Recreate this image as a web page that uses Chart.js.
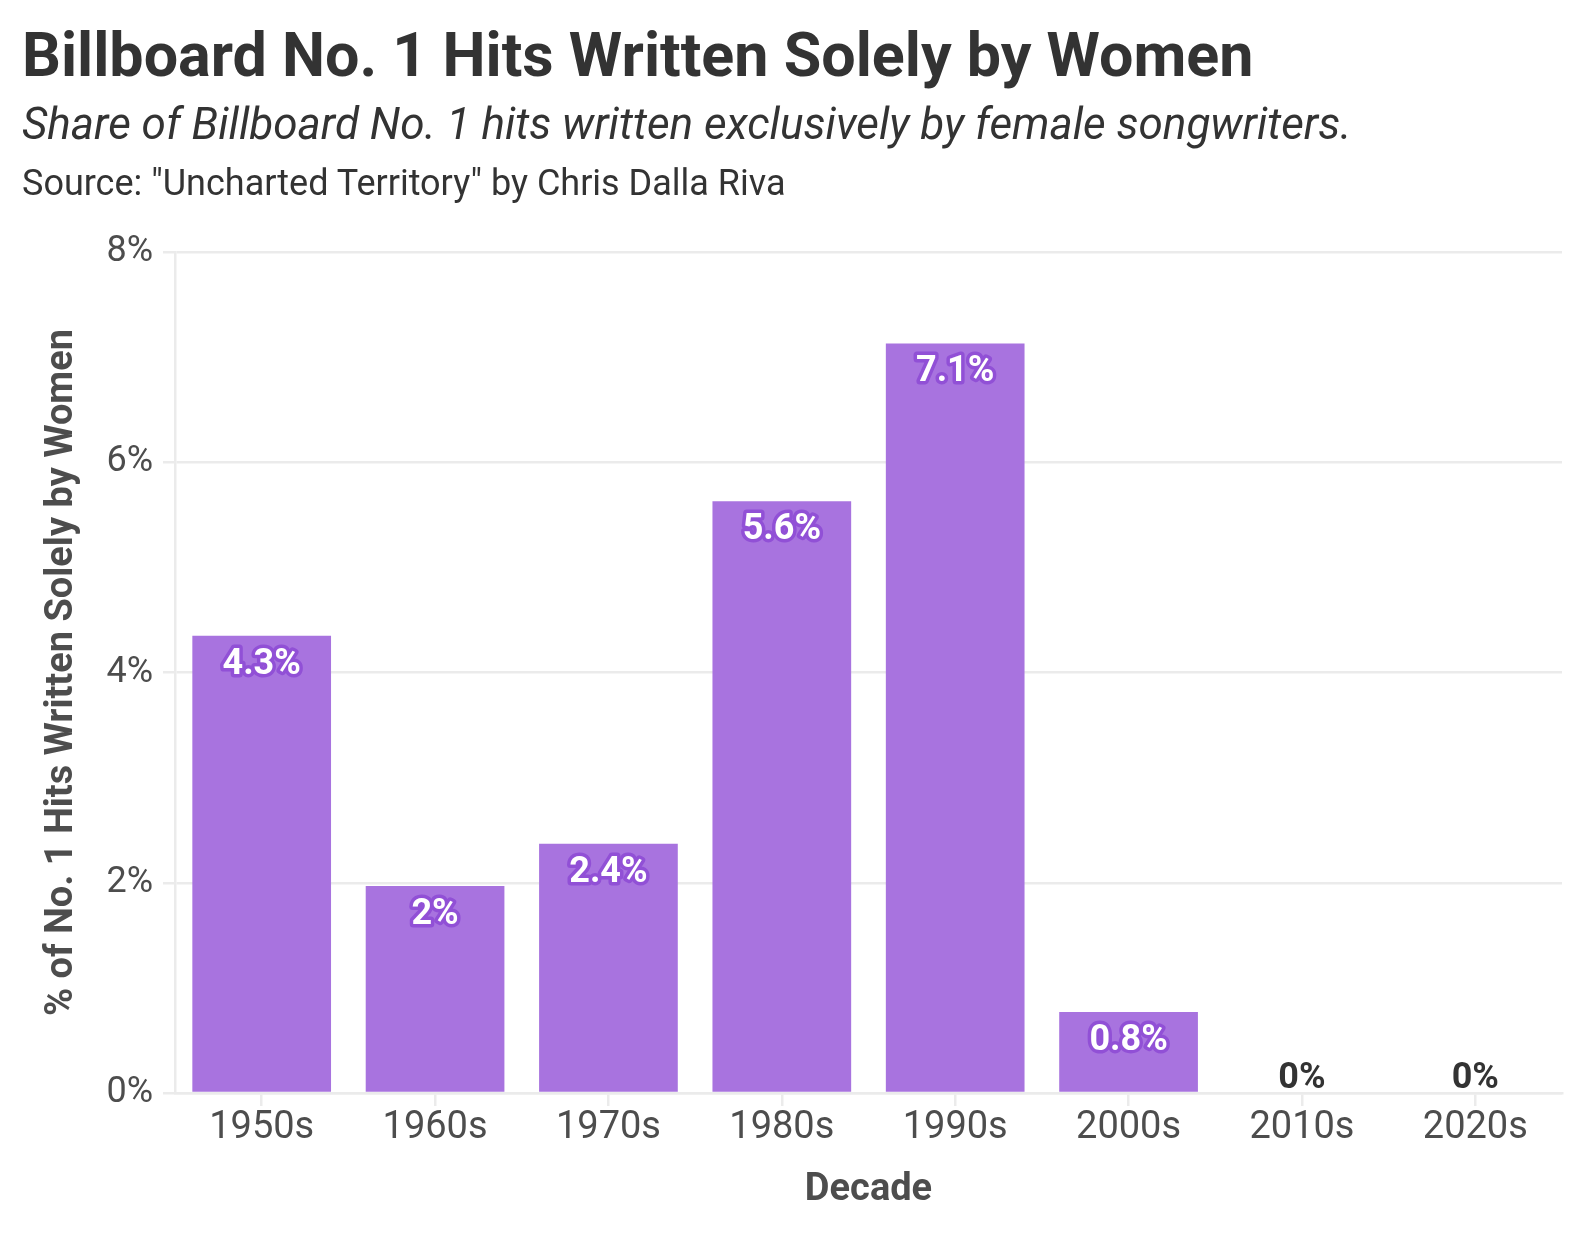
<!DOCTYPE html>
<html>
<head>
<meta charset="utf-8">
<script src="https://cdn.jsdelivr.net/npm/chart.js@4.4.1/dist/chart.umd.min.js"></script>
<style>
  html, body { margin: 0; padding: 0; background: #ffffff; }
  body { width: 1588px; height: 1252px; position: relative; overflow: hidden; font-family: Roboto, sans-serif; color: #333333; }
  .hd { position: absolute; left: 22px; line-height: 1; white-space: nowrap; }
  #title { top: 25px; font-size: 61px; font-weight: 700; }
  #subtitle { top: 102px; font-size: 44px; font-style: italic; }
  #source { top: 165px; font-size: 36px; }
  #wrap { position: absolute; left: 0; top: 0; width: 1588px; height: 1252px; }
</style>
</head>
<body>
<div id="wrap"><canvas id="c" width="1588" height="1252"></canvas></div>
<div class="hd" id="title">Billboard No. 1 Hits Written Solely by Women</div>
<div class="hd" id="subtitle">Share of Billboard No. 1 hits written exclusively by female songwriters.</div>
<div class="hd" id="source">Source: "Uncharted Territory" by Chris Dalla Riva</div>
<script>
const decades = ["1950s", "1960s", "1970s", "1980s", "1990s", "2000s", "2010s", "2020s"];
const sharePct = [4.35, 1.97, 2.37, 5.63, 7.13, 0.77, 0, 0];
const yTicks = [0, 2, 4, 6, 8];

const FONT = "Roboto, sans-serif";
const GRID = "#ebebeb";

function fmtPct(v) {
  return Number(v.toFixed(1)) + "%";
}

const labelPlugin = {
  id: "barLabels",
  afterDatasetsDraw(chart) {
    const ctx = chart.ctx;
    const meta = chart.getDatasetMeta(0);
    ctx.save();
    ctx.font = "700 36px " + FONT;
    ctx.textAlign = "center";
    ctx.textBaseline = "middle";
    meta.data.forEach((bar, i) => {
      const v = sharePct[i];
      const txt = fmtPct(v);
      if (v > 0) {
        const y = bar.y + 29;
        ctx.lineJoin = "round";
        ctx.lineWidth = 7;
        ctx.strokeStyle = "#9150d6";
        ctx.strokeText(txt, bar.x, y);
        ctx.fillStyle = "#ffffff";
        ctx.fillText(txt, bar.x, y);
      } else {
        ctx.fillStyle = "#333333";
        ctx.fillText(txt, bar.x, bar.base - 14);
      }
    });
    ctx.restore();
  }
};

new Chart(document.getElementById("c"), {
  type: "bar",
  data: {
    labels: decades,
    datasets: [{
      data: sharePct,
      backgroundColor: "#a873df",
      borderWidth: 0,
      barPercentage: 0.8,
      categoryPercentage: 1.0
    }]
  },
  options: {
    responsive: false,
    animation: false,
    devicePixelRatio: 1,
    layout: { padding: { top: 252, right: 26, bottom: 0, left: 0 } },
    plugins: {
      legend: { display: false },
      tooltip: { enabled: false },
      title: { display: false }
    },
    scales: {
      x: {
        afterFit: s => { s.height = 159; },
        grid: { display: true, offset: false, drawOnChartArea: false, drawTicks: true, tickLength: 13, color: GRID, lineWidth: 2.5 },
        border: { display: true, color: GRID, width: 2.5 },
        ticks: { color: "#4d4d4d", font: { family: FONT, size: 38 }, padding: 0 },
        title: { display: true, text: "Decade", color: "#4d4d4d", font: { family: FONT, size: 38, weight: "700" }, padding: { top: 0, bottom: 39 } }
      },
      y: {
        min: 0,
        max: 8,
        afterFit: s => { s.width = 175; },
        afterBuildTicks: s => { s.ticks = yTicks.map(v => ({ value: v })); },
        grid: { color: GRID, lineWidth: 2.5, drawTicks: true, tickLength: 12 },
        border: { display: true, color: GRID, width: 2.5 },
        ticks: { color: "#4d4d4d", font: { family: FONT, size: 36 }, padding: 10, callback: v => v + "%" },
        title: { display: true, text: "% of No. 1 Hits Written Solely by Women", color: "#4d4d4d", font: { family: FONT, size: 38, weight: "700" }, padding: { top: 40, bottom: 0 } }
      }
    }
  },
  plugins: [labelPlugin]
});
</script>
</body>
</html>
